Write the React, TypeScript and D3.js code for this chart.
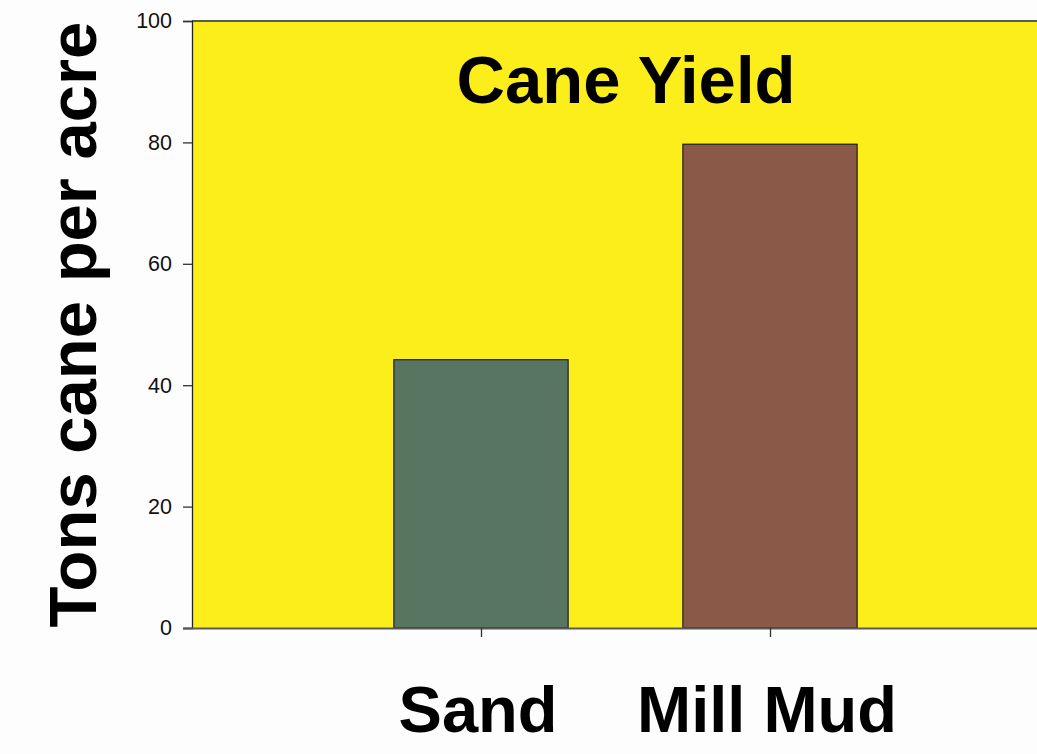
import { useEffect, useRef } from "react";
import * as d3 from "d3";

const categories = ["Sand", "Mill Mud"];
const yieldValues = [44.2, 79.7];
const barColors = ["#587562", "#8a5948"];
const yTicks = [0, 20, 40, 60, 80, 100];

const W = 1037;
const H = 754;

export default function App() {
  const ref = useRef<SVGSVGElement>(null);

  useEffect(() => {
    if (!ref.current) return;
    const svg = d3.select(ref.current);
    svg.selectAll("*").remove();

    const plot = { left: 192, top: 21, bottom: 628, right: 1100 };
    const step = 289;
    const font = "'Liberation Sans', Arial, Helvetica, sans-serif";

    svg.append("rect").attr("width", W).attr("height", H).attr("fill", "#fdfdfd");

    const y = d3.scaleLinear().domain([0, 100]).range([plot.bottom, plot.top]);
    const x = d3
      .scalePoint<string>()
      .domain(categories)
      .range([plot.left + step, plot.left + step * 2]);
    const barW = step * 0.603;

    // plot area
    svg
      .append("rect")
      .attr("x", plot.left)
      .attr("y", plot.top)
      .attr("width", plot.right - plot.left)
      .attr("height", plot.bottom - plot.top)
      .attr("fill", "#fcee1b");

    // top border
    svg
      .append("line")
      .attr("x1", plot.left)
      .attr("x2", plot.right)
      .attr("y1", plot.top)
      .attr("y2", plot.top)
      .attr("stroke", "#5a5a5a")
      .attr("stroke-width", 1.8);

    // bars
    svg
      .selectAll("rect.bar")
      .data(categories)
      .enter()
      .append("rect")
      .attr("class", "bar")
      .attr("x", (d) => (x(d) ?? 0) - barW / 2)
      .attr("y", (_, i) => y(yieldValues[i]))
      .attr("width", barW)
      .attr("height", (_, i) => y(0) - y(yieldValues[i]))
      .attr("fill", (_, i) => barColors[i])
      .attr("stroke", "#1e1e1e")
      .attr("stroke-width", 1.2);

    // y axis
    const yAxis = svg
      .append("g")
      .attr("transform", `translate(${plot.left},0)`)
      .call(d3.axisLeft(y).tickValues(yTicks).tickSize(9).tickPadding(11));
    yAxis.select(".domain").attr("stroke", "#222").attr("stroke-width", 1.3);
    yAxis.selectAll(".tick line").attr("stroke", "#333").attr("stroke-width", 1.3);
    yAxis
      .selectAll(".tick text")
      .attr("font-family", font)
      .attr("font-size", 21.5)
      .attr("fill", "#111");

    // x axis
    const xAxis = svg
      .append("g")
      .attr("transform", `translate(0,${plot.bottom})`)
      .call(d3.axisBottom(x).tickSize(9).tickSizeOuter(0).tickFormat(() => ""));
    xAxis
      .select(".domain")
      .attr("d", `M${plot.left - 9},0.5H${plot.right}`)
      .attr("stroke", "#5a5a5a")
      .attr("stroke-width", 2);
    xAxis.selectAll(".tick line").attr("stroke", "#333").attr("stroke-width", 1.3);

    // category labels
    svg
      .selectAll("text.cat")
      .data(categories)
      .enter()
      .append("text")
      .attr("class", "cat")
      .attr("x", (d) => (x(d) ?? 0) - 3)
      .attr("y", 732)
      .attr("text-anchor", "middle")
      .attr("font-family", font)
      .attr("font-weight", "bold")
      .attr("font-size", 65)
      .attr("fill", "#000")
      .text((d) => d);

    // title
    svg
      .append("text")
      .attr("x", 626)
      .attr("y", 103)
      .attr("text-anchor", "middle")
      .attr("font-family", font)
      .attr("font-weight", "bold")
      .attr("font-size", 67)
      .attr("fill", "#000")
      .text("Cane Yield");

    // y label
    svg
      .append("text")
      .attr("transform", `translate(96,${(plot.top + plot.bottom) / 2}) rotate(-90)`)
      .attr("text-anchor", "middle")
      .attr("font-family", font)
      .attr("font-weight", "bold")
      .attr("font-size", 67)
      .attr("fill", "#000")
      .text("Tons cane per acre");
  }, []);

  return (
    <svg
      ref={ref}
      width={W}
      height={H}
      style={{ position: "absolute", left: 0, top: 0, display: "block" }}
    />
  );
}
